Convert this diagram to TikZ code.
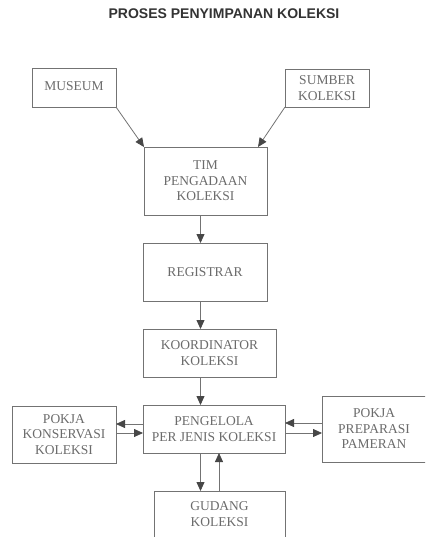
\documentclass[tikz,border=0pt]{standalone}
\usepackage{fontspec}
\setmainfont{Liberation Serif}
\setsansfont{Liberation Sans}
\usetikzlibrary{arrows.meta,positioning}
\definecolor{inkgray}{gray}{0.42}
\definecolor{linegray}{gray}{0.45}
\definecolor{tipgray}{gray}{0.28}

\begin{document}
\begin{tikzpicture}[
  x=1pt, y=1pt,
  node distance=28pt and 28pt,
  box/.style={draw=linegray, line width=0.8pt, align=center, inner sep=2pt, outer sep=0pt,
    text=inkgray, font=\fontsize{13.5}{15.5}\selectfont},
  arrow/.style={draw=linegray, line width=0.8pt,
    -{Triangle[length=9pt,width=8pt,color=tipgray]}}
]
\useasboundingbox (0,0) rectangle (425,-537);
\clip (0,0) rectangle (425,-537);

\node[font=\sffamily\bfseries\fontsize{14}{16}\selectfont, text=black!80] (title) at (224,-14) {PROSES PENYIMPANAN KOLEKSI};

\node[box, minimum width=84pt, minimum height=39pt] (museum) at (74,-87.5) {\raisebox{2pt}{MUSEUM}};
\node[box, minimum width=84pt, minimum height=38pt] (sumber) at (327,-88) {SUMBER\\KOLEKSI};

\node[box, minimum width=123pt, minimum height=68pt] (tim) at (205.5,-181) {TIM\\PENGADAAN\\KOLEKSI};
\node[box, minimum width=124pt, minimum height=58pt, below=of tim, xshift=-0.5pt] (registrar) {REGISTRAR};
\node[box, minimum width=133pt, minimum height=48pt, below=of registrar, xshift=4.5pt] (koord) {KOORDINATOR\\KOLEKSI};
\node[box, minimum width=142pt, minimum height=48pt, below=of koord, xshift=4.5pt] (pengelola) {PENGELOLA\\PER JENIS KOLEKSI};

\node[box, minimum width=104pt, minimum height=57pt, left=27pt of pengelola, yshift=-5.5pt] (konservasi) {POKJA\\KONSERVASI\\KOLEKSI};
\node[box, minimum width=104pt, minimum height=66pt, right=37pt of pengelola] (preparasi) {POKJA\\PREPARASI\\PAMERAN};
\node[box, minimum width=131pt, minimum height=46pt, below=38pt of pengelola, xshift=5.5pt] (gudang) {GUDANG\\KOLEKSI};

% spine of the vertical arrows
\coordinate (spine) at (200.5,0);
\coordinate (back) at (219,0);

\draw[arrow] (museum.south east) -- (tim.north west);
\draw[arrow] (sumber.south west) -- ([xshift=-9pt]tim.north east);

\draw[arrow] (tim.south -| spine) -- (registrar.north -| spine);
\draw[arrow] (registrar.south -| spine) -- (koord.north -| spine);
\draw[arrow] (koord.south -| spine) -- (pengelola.north -| spine);

\draw[arrow] ([yshift=5pt]pengelola.west) -- ([yshift=5pt]pengelola.west -| konservasi.east);
\draw[arrow] ([yshift=-4pt]pengelola.west -| konservasi.east) -- ([yshift=-4pt]pengelola.west);
\draw[arrow] ([yshift=6pt]preparasi.west) -- ([yshift=6pt]pengelola.east);
\draw[arrow] ([yshift=-4pt]pengelola.east) -- ([yshift=-4pt]preparasi.west);

\draw[arrow] (pengelola.south -| spine) -- (gudang.north -| spine);
\draw[arrow] (gudang.north -| back) -- (pengelola.south -| back);
\end{tikzpicture}
\end{document}
